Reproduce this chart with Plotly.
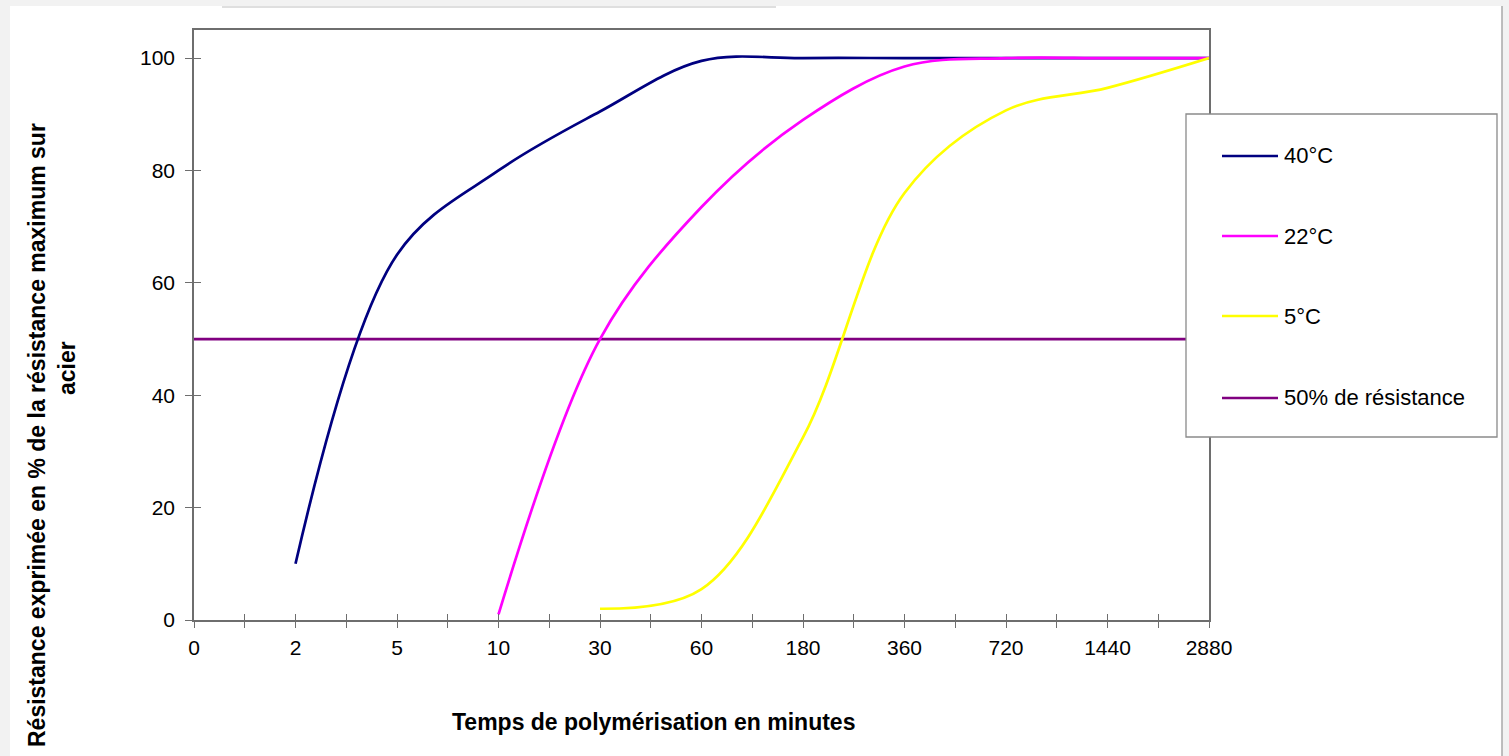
import plotly.graph_objects as go

# ---- data ----
x_labels = ['0', '2', '5', '10', '30', '60', '180', '360', '720', '1440', '2880']

temps_40 = ['2', '5', '10', '30', '60', '180', '360', '720', '1440', '2880']
res_40 = [10, 65, 80, 90.5, 99.5, 100, 100, 100, 100, 100]

temps_22 = ['10', '30', '60', '180', '360', '720', '1440', '2880']
res_22 = [1, 50, 73.5, 89, 98.5, 100, 100, 100]

temps_5 = ['30', '60', '180', '360', '720', '1440', '2880']
res_5 = [2, 5.5, 32.5, 76, 90.7, 94.7, 100]

temps_seuil = ['0', '2880']
res_seuil = [50, 50]

y_ticks = [0, 20, 40, 60, 80, 100]

series = [
    ('40°C', temps_40, res_40, '#000080'),
    ('22°C', temps_22, res_22, '#ff00ff'),
    ('5°C', temps_5, res_5, '#ffff00'),
    ('50% de résistance', temps_seuil, res_seuil, '#800080'),
]

FONT = 'Liberation Sans, Arial, sans-serif'
W, H = 1509, 756
L, R, T, B = 194, 1209, 30, 620  # plot area in pixels


def px(p):
    return (p - L) / (R - L)


def py(q):
    return (B - q) / (B - T)


def idx(labels):
    return [x_labels.index(t) for t in labels]


fig = go.Figure()
draw_order = [3, 0, 1, 2]
for i in draw_order:
    name, t, v, c = series[i]
    fig.add_trace(go.Scatter(
        x=idx(t), y=v, name=name, mode='lines',
        line=dict(color=c, width=2.7, shape='spline' if i < 3 else 'linear', smoothing=1.0),
        showlegend=False, hoverinfo='skip'))

# dummy trace for crossing tick axes
fig.add_trace(go.Scatter(x=[0, 10], y=[0, 0], xaxis='x2', yaxis='y2', mode='lines',
                         opacity=0, showlegend=False, hoverinfo='skip'))

half = [k / 2 for k in range(0, 21)]
half_text = [x_labels[int(k)] if float(k).is_integer() else '' for k in half]

axis_col = '#6e6e6e'
fig.update_layout(
    width=W, height=H,
    margin=dict(l=L, r=W - R, t=T, b=H - B, pad=0),
    paper_bgcolor='#f2f2f2', plot_bgcolor='white',
    font=dict(family=FONT, size=21, color='black'),
    showlegend=False,
    xaxis=dict(range=[0, 10], tickvals=half, ticktext=half_text, ticks='outside', ticklen=6,
               tickcolor=axis_col, tickwidth=1.3, showline=True, linecolor=axis_col, linewidth=1.5,
               mirror=True, showgrid=False, zeroline=False, tickfont=dict(size=21),
               ticklabelstandoff=2),
    yaxis=dict(range=[0, 105], tickvals=y_ticks, ticks='outside', ticklen=7,
               tickcolor=axis_col, tickwidth=1.3, showline=True, linecolor=axis_col, linewidth=1.5,
               mirror=True, showgrid=False, zeroline=False, tickfont=dict(size=21),
               ticklabelstandoff=6),
    xaxis2=dict(range=[0, 10], overlaying='x', anchor='y', tickvals=half, ticks='inside', ticklen=6,
                tickcolor=axis_col, tickwidth=1.3, showticklabels=False, showline=False,
                showgrid=False, zeroline=False),
    yaxis2=dict(range=[0, 105], overlaying='y', anchor='x', tickvals=y_ticks, ticks='inside',
                ticklen=7, tickcolor=axis_col, tickwidth=1.3, showticklabels=False,
                showline=False, showgrid=False, zeroline=False),
)

shapes = []
# white page area
shapes.append(dict(type='rect', xref='paper', yref='paper', layer='below',
                   x0=px(10), x1=px(1502), y0=py(756), y1=py(6),
                   fillcolor='white', line=dict(width=0)))
shapes.append(dict(type='line', xref='paper', yref='paper', layer='below',
                   x0=px(1502), x1=px(1502), y0=py(756), y1=py(6),
                   line=dict(color='#a8a8a8', width=1.5)))
shapes.append(dict(type='line', xref='paper', yref='paper', layer='below',
                   x0=px(222), x1=px(776), y0=py(7), y1=py(7),
                   line=dict(color='#d4d4d4', width=1.5)))
# legend box
shapes.append(dict(type='rect', xref='paper', yref='paper', layer='above',
                   x0=px(1186), x1=px(1497), y0=py(437), y1=py(114),
                   fillcolor='white', line=dict(color='#8a8a8a', width=1.3)))
leg_y = [156, 236, 316, 398]
annotations = []
for (name, t, v, c), yy in zip(series, leg_y):
    shapes.append(dict(type='line', xref='paper', yref='paper', layer='above',
                       x0=px(1222), x1=px(1278), y0=py(yy), y1=py(yy),
                       line=dict(color=c, width=2.7)))
    annotations.append(dict(xref='paper', yref='paper', x=px(1282), y=py(yy),
                            xanchor='left', yanchor='middle', showarrow=False,
                            text=name, font=dict(size=22, family=FONT, color='black')))

# axis titles
annotations.append(dict(xref='paper', yref='paper', x=px(653), y=py(722),
                        xanchor='center', yanchor='middle', showarrow=False,
                        text='<b>Temps de polymérisation en minutes</b>',
                        font=dict(size=23, family=FONT)))
annotations.append(dict(xref='paper', yref='paper', x=px(37), y=py(435),
                        xanchor='center', yanchor='middle', showarrow=False, textangle=-90,
                        text='<b>Résistance exprimée en % de la résistance maximum sur</b>',
                        font=dict(size=23, family=FONT)))
annotations.append(dict(xref='paper', yref='paper', x=px(67), y=py(368),
                        xanchor='center', yanchor='middle', showarrow=False, textangle=-90,
                        text='<b>acier</b>', font=dict(size=23, family=FONT)))

fig.update_layout(shapes=shapes, annotations=annotations)

fig.write_html("out.html", config={'displayModeBar': False},
               post_script="document.body.style.margin='0';document.body.style.overflow='hidden';")
